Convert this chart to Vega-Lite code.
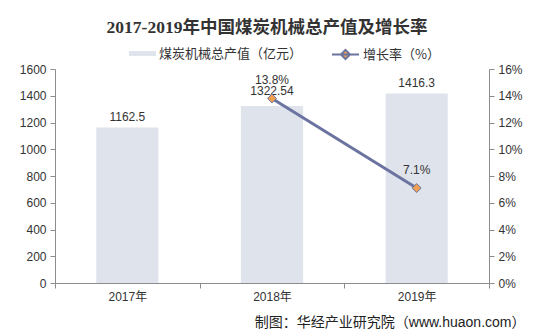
{
  "$schema": "https://vega.github.io/schema/vega-lite/v6.json",
  "width": 434,
  "height": 214,
  "autosize": {"type": "none"},
  "padding": {"left": 55, "top": 69, "right": 46, "bottom": 53},
  "background": "white",
  "title": {
    "text": "2017-2019年中国煤炭机械总产值及增长率",
    "font": "Liberation Serif, Noto Sans CJK SC",
    "fontSize": 17.5,
    "fontWeight": "bold",
    "color": "#333333",
    "anchor": "middle",
    "dx": -5,
    "baseline": "middle",
    "offset": -5
  },
  "data": {
    "values": [
      {"year": "2017年", "value": 1162.5, "rate": null},
      {"year": "2018年", "value": 1322.54, "rate": 0.138},
      {"year": "2019年", "value": 1416.3, "rate": 0.071}
    ]
  },
  "encoding": {
    "x": {
      "field": "year",
      "type": "nominal",
      "sort": null,
      "scale": {"paddingInner": 0, "paddingOuter": 0},
      "axis": {
        "title": "制图：华经产业研究院（www.huaon.com）",
        "titleFont": "Liberation Sans, Noto Sans CJK SC",
        "titleFontSize": 14,
        "titleFontWeight": "normal",
        "titleColor": "#222222",
        "titleAnchor": "end",
        "titleAlign": "right",
        "titleBaseline": "middle",
        "titleX": 470,
        "titleY": 39,
        "labelAngle": 0,
        "tickBand": "extent",
        "labelPadding": 3
      }
    }
  },
  "layer": [
    {
      "encoding": {
        "y": {
          "field": "value",
          "type": "quantitative",
          "scale": {"domain": [0, 1600]},
          "axis": {
            "title": null,
            "orient": "left",
            "values": [0, 200, 400, 600, 800, 1000, 1200, 1400, 1600],
            "format": "d",
            "labelOverlap": false
          }
        }
      },
      "layer": [
        {
          "mark": {"type": "bar", "width": {"band": 0.43}},
          "encoding": {
            "fill": {
              "datum": "煤炭机械总产值（亿元）",
              "scale": {"range": ["#dfe3ec"]},
              "legend": {
                "orient": "none",
                "legendX": 74,
                "legendY": -29,
                "title": null,
                "symbolType": "M-1,-0.18H1V0.18H-1Z",
                "symbolSize": 729,
                "symbolStrokeWidth": 0,
                "labelFontSize": 13,
                "labelFont": "Noto Sans CJK SC",
                "labelColor": "#333333",
                "labelOffset": 3,
                "padding": 0
              }
            }
          }
        },
        {
          "mark": {
            "type": "text",
            "baseline": "middle",
            "font": "Liberation Sans",
            "fontSize": 12,
            "color": "#333333",
            "dy": {"expr": "datum.year === '2018年' ? -15 : -11"}
          },
          "encoding": {
            "text": {"field": "value", "type": "nominal"}
          }
        }
      ]
    },
    {
      "encoding": {
        "y": {
          "field": "rate",
          "type": "quantitative",
          "scale": {"domain": [0, 0.16]},
          "axis": {
            "title": null,
            "orient": "right",
            "values": [0, 0.02, 0.04, 0.06, 0.08, 0.1, 0.12, 0.14, 0.16],
            "format": ".0%",
            "labelOverlap": false
          }
        }
      },
      "layer": [
        {
          "mark": {"type": "line", "strokeWidth": 3},
          "encoding": {
            "stroke": {
              "datum": "增长率（%）",
              "scale": {"range": ["#6b74a0"]},
              "legend": {
                "orient": "none",
                "legendX": 276,
                "legendY": -29,
                "title": null,
                "symbolType": "M-1,0H1M0,-0.34L0.34,0L0,0.34L-0.34,0Z",
                "symbolSize": 729,
                "symbolStrokeWidth": 2,
                "symbolFillColor": "#f0a050",
                "labelFontSize": 13,
                "labelFont": "Noto Sans CJK SC",
                "labelColor": "#333333",
                "labelOffset": 3,
                "padding": 0,
                "encode": {"symbols": {"update": {"fill": {"value": "#f0a050"}, "fillOpacity": {"value": 1}}}}
              }
            }
          }
        },
        {
          "mark": {"type": "point", "shape": "diamond", "filled": true, "fill": "#f0a050", "stroke": "#6b74a0", "strokeWidth": 1, "size": 80, "opacity": 1}
        },
        {
          "transform": [{"filter": "datum.rate != null"}],
          "mark": {
            "type": "text",
            "baseline": "middle",
            "font": "Liberation Sans",
            "fontSize": 12,
            "color": "#333333",
            "dy": -18
          },
          "encoding": {
            "text": {"field": "rate", "type": "quantitative", "format": ".1%"}
          }
        }
      ]
    }
  ],
  "resolve": {"scale": {"y": "independent", "fill": "independent", "stroke": "independent"}},
  "config": {
    "view": {"stroke": null},
    "axis": {
      "grid": false,
      "domainColor": "#8c8c8c",
      "tickColor": "#8c8c8c",
      "tickSize": 5,
      "labelColor": "#333333",
      "labelFont": "Liberation Sans, Noto Sans CJK SC",
      "labelFontSize": 12,
      "labelPadding": 4
    }
  }
}
